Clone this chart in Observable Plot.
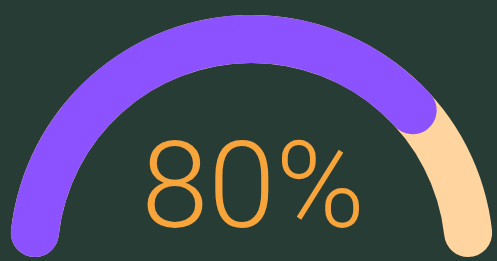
<!DOCTYPE html>
<html><head>
<meta charset="utf-8">
<script src="https://cdn.jsdelivr.net/npm/d3@7"></script>
<script src="https://cdn.jsdelivr.net/npm/@observablehq/plot@0.6"></script>
<style>html,body{margin:0;padding:0;background:#283c36;overflow:hidden}</style>
</head><body><div id="chart"></div>
<script>
// data
const gaugeValue = 80;
const gaugeMax = 100;
const segmentNames = ["track", "progress"];
const segmentValues = [gaugeMax, gaugeValue];
const segmentColors = ["#ffd49f", "#8c52ff"];
const labelText = [`${gaugeValue}%`];

const segments = segmentNames.map((name, i) => ({name, value: segmentValues[i], color: segmentColors[i]}));

const W = 497, H = 261;
const thickness = 48;

function arcMark(data) {
  return (index, scales, values, dims) => {
    const cx = dims.marginLeft + (dims.width - dims.marginLeft - dims.marginRight) / 2;
    const cy = dims.height - dims.marginBottom;
    const outer = Math.min(cx - dims.marginLeft, cy - dims.marginTop);
    const arc = d3.arc()
      .innerRadius(outer - thickness)
      .outerRadius(outer)
      .cornerRadius(thickness / 2);
    const g = d3.create("svg:g").attr("transform", `translate(${cx},${cy})`);
    for (const d of data) {
      g.append("path")
        .attr("fill", d.color)
        .attr("d", arc({startAngle: scales.x(0) * Math.PI / 180, endAngle: scales.x(d.value) * Math.PI / 180}));
    }
    return g.node();
  };
}

const chart = Plot.plot({
  width: W,
  height: H,
  marginTop: 15,
  marginLeft: 9,
  marginRight: 3,
  marginBottom: 4,
  style: {background: "#283c36", overflow: "visible"},
  x: {type: "linear", domain: [0, gaugeMax], range: [-90, 90], axis: null},
  y: {axis: null},
  marks: [
    arcMark(segments),
    Plot.text(labelText, {
      frameAnchor: "bottom",
      lineAnchor: "bottom",
      dx: 1,
      dy: -31,
      text: d => d,
      fill: "#f7a43a",
      fontSize: 121,
      fontWeight: 300,
      fontFamily: "Roboto"
    })
  ]
});
document.getElementById("chart").append(chart);
</script>
</body></html>
